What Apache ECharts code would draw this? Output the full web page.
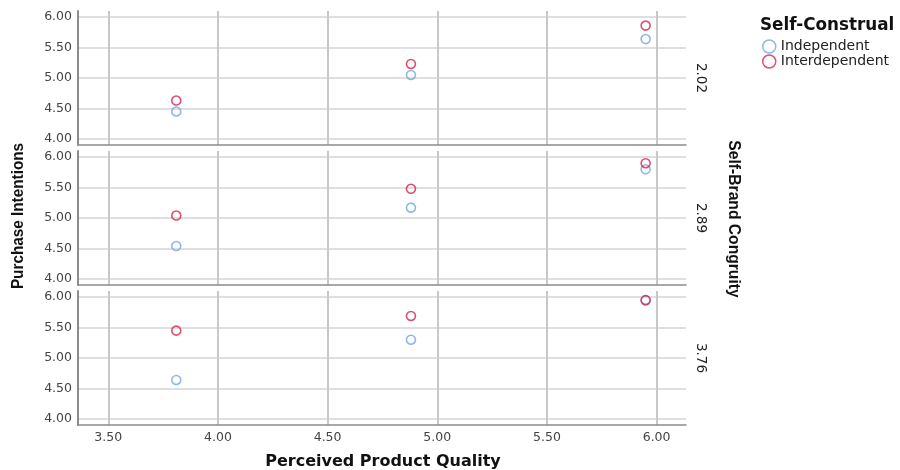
<!DOCTYPE html>
<html>
<head>
<meta charset="utf-8">
<script src="https://cdn.jsdelivr.net/npm/echarts@6/dist/echarts.min.js"></script>
<style>html,body{margin:0;padding:0;background:#fff;}#chart{width:900px;height:470px;}</style>
</head>
<body>
<div id="chart"></div>
<script>
// Data
var xValues = [3.81, 4.88, 5.95];
var panels = ['2.02', '2.89', '3.76'];
var independent = [
  [4.45, 5.05, 5.64],
  [4.54, 5.17, 5.80],
  [4.64, 5.30, 5.95]
];
var interdependent = [
  [4.63, 5.23, 5.86],
  [5.04, 5.48, 5.90],
  [5.45, 5.69, 5.95]
];
var seriesNames = ['Independent', 'Interdependent'];
var xTitle = 'Perceived Product Quality';
var yTitle = 'Purchase Intentions';
var stripTitle = 'Self-Brand Congruity';
var legendTitle = 'Self-Construal';

var colors = {Independent: '#72a6e3', Interdependent: '#d6244c'};
var gridLeft = 78, gridWidth = 608, gridTops = [11, 151, 291], gridHeight = 134;

var grids = [], xAxes = [], yAxes = [], series = [], graphics = [];
for (var p = 0; p < 3; p++) {
  grids.push({left: gridLeft, top: gridTops[p], width: gridWidth, height: gridHeight});
  xAxes.push({
    type: 'value', gridIndex: p, min: 3.362, max: 6.134, splitNumber: 5,
    axisLine: {show: true, onZero: false, lineStyle: {color: '#8c8c8c', width: 1.5}},
    axisTick: {show: false},
    axisLabel: {show: p === 2, showMinLabel: false, showMaxLabel: false, margin: 6,
      fontFamily: 'DejaVu Sans', fontSize: 12.5, color: '#444',
      formatter: function (v) { return v.toFixed(2); }},
    splitLine: {show: true, showMinLine: false, showMaxLine: false, lineStyle: {color: '#c8c8c8', width: 2}}
  });
  yAxes.push({
    type: 'value', gridIndex: p, min: 3.9, max: 6.1, splitNumber: 5,
    axisLine: {show: true, onZero: false, lineStyle: {color: '#8c8c8c', width: 2}},
    axisTick: {show: false},
    axisLabel: {showMinLabel: false, showMaxLabel: false, margin: 6,
      fontFamily: 'DejaVu Sans', fontSize: 12.5, color: '#444',
      formatter: function (v) { return v.toFixed(2); }},
    splitLine: {show: true, showMinLine: false, showMaxLine: false, lineStyle: {color: '#d4d4d4', width: 1.5}}
  });
  [independent, interdependent].forEach(function (arr, si) {
    var name = seriesNames[si];
    series.push({
      name: name, type: 'scatter', xAxisIndex: p, yAxisIndex: p,
      symbol: 'circle', symbolSize: 9,
      itemStyle: {color: 'rgba(255,255,255,0)', borderColor: colors[name], borderWidth: 1.6},
      emphasis: {disabled: true},
      data: xValues.map(function (x, i) { return [x, arr[p][i]]; })
    });
  });
  graphics.push({
    type: 'text', x: 700, y: gridTops[p] + gridHeight / 2, rotation: -Math.PI / 2,
    style: {text: panels[p], fontFamily: 'DejaVu Sans', fontSize: 13.5, fill: '#222',
      align: 'center', verticalAlign: 'middle'}
  });
}
graphics.push({
  type: 'text', x: 18, y: 216, rotation: Math.PI / 2, scaleX: 0.9,
  style: {text: yTitle, fontFamily: 'Liberation Sans', fontWeight: 'bold', fontSize: 17,
    fill: '#111', align: 'center', verticalAlign: 'middle'}
});
graphics.push({
  type: 'text', x: 734, y: 219, rotation: -Math.PI / 2, scaleX: 0.92,
  style: {text: stripTitle, fontFamily: 'Liberation Sans', fontWeight: 'bold', fontSize: 17,
    fill: '#111', align: 'center', verticalAlign: 'middle'}
});
graphics.push({
  type: 'text', x: 383, y: 462,
  style: {text: xTitle, fontFamily: 'DejaVu Sans', fontWeight: 'bold', fontSize: 16,
    fill: '#111', align: 'center', verticalAlign: 'middle'}
});

var chart = echarts.init(document.getElementById('chart'), null, {renderer: 'canvas'});
chart.setOption({
  animation: false,
  backgroundColor: '#fff',
  title: {text: legendTitle, left: 755, top: 12,
    textStyle: {fontFamily: 'DejaVu Sans', fontWeight: 'bold', fontSize: 16.8, color: '#111'}},
  legend: {
    data: seriesNames, orient: 'vertical', left: 757, top: 34, itemGap: 0,
    itemWidth: 13, itemHeight: 13, icon: 'circle',
    itemStyle: {borderWidth: 1.5},
    textStyle: {fontFamily: 'DejaVu Sans', fontSize: 14, color: '#222', lineHeight: 15}
  },
  grid: grids, xAxis: xAxes, yAxis: yAxes, series: series,
  graphic: graphics
});
</script>
</body>
</html>
